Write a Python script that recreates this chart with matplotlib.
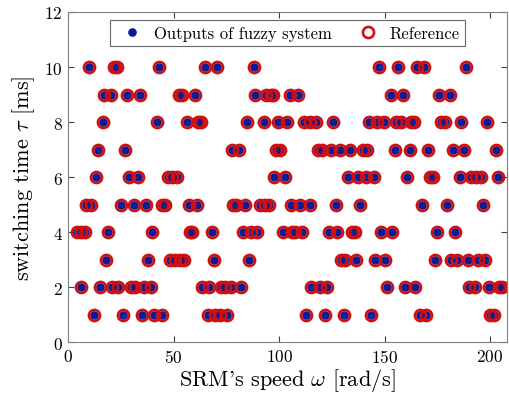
import matplotlib
matplotlib.use('Agg')
import matplotlib.pyplot as plt

plt.rcParams['font.family'] = 'cmr10'
plt.rcParams['mathtext.fontset'] = 'cm'
plt.rcParams['axes.formatter.use_mathtext'] = True

# speed values (rad/s) for each switching time level (ms)
speed_10 = [9.9, 21.7, 23.3, 43.0, 65.0, 70.7, 87.9, 147.5, 156.5, 165.5, 168.6, 188.7]
speed_9 = [17.0, 20.1, 28.0, 34.0, 52.5, 53.8, 60.0, 88.7, 93.6, 96.0, 97.2, 105.0, 108.9,
           152.8, 158.7, 175.6, 180.8]
speed_8 = [16.2, 42.1, 56.2, 61.5, 62.8, 84.6, 92.8, 99.6, 103.9, 111.8, 114.5, 117.6, 125.7,
           142.4, 146.5, 149.7, 155.5, 157.9, 162.6, 163.8, 176.9, 178.4, 186.3, 198.7]
speed_7 = [14.1, 26.9, 77.8, 80.8, 98.7, 100.2, 118.6, 120.2, 124.7, 128.8, 133.6, 139.7,
           141.6, 154.7, 161.8, 170.5, 182.4, 187.4, 202.8]
speed_6 = [13.0, 28.8, 33.1, 47.3, 49.2, 51.3, 97.7, 102.6, 132.6, 137.4, 141.0, 144.9,
           160.4, 171.5, 172.8, 185.7, 191.1, 193.4, 195.5, 203.6]
speed_5 = [8.6, 10.7, 25.2, 31.0, 36.6, 44.5, 45.7, 57.1, 61.1, 78.1, 79.7, 83.8, 90.8,
           93.1, 95.0, 105.8, 109.7, 114.8, 126.8, 138.5, 167.5, 179.7, 196.6]
speed_4 = [4.3, 6.2, 8.1, 18.9, 39.9, 57.6, 58.7, 67.9, 82.9, 86.5, 89.7, 101.8, 106.2,
           107.7, 110.8, 123.5, 127.6, 134.5, 135.8, 148.4, 153.6, 174.6, 183.5]
speed_3 = [17.8, 37.8, 48.1, 50.5, 52.8, 54.9, 69.0, 85.7, 129.1, 131.4, 136.6, 145.3,
           150.3, 173.7, 181.3, 184.4, 189.5, 194.2, 197.7]
speed_2 = [5.9, 14.9, 20.5, 23.6, 29.6, 31.5, 35.9, 39.1, 63.4, 66.6, 72.6, 74.2, 77.3,
           82.1, 115.2, 119.2, 122.8, 151.3, 159.5, 164.2, 189.8, 192.7, 199.3, 204.0, 205.6]
speed_1 = [12.2, 26.0, 35.0, 40.7, 44.2, 66.0, 69.4, 71.8, 75.4, 112.6, 121.9, 130.7,
           143.7, 166.6, 169.7, 200.2, 201.8]

levels = [10, 9, 8, 7, 6, 5, 4, 3, 2, 1]
rows = [speed_10, speed_9, speed_8, speed_7, speed_6, speed_5, speed_4, speed_3, speed_2, speed_1]

speed = []
tau = []
for lev, row in zip(levels, rows):
  for s in row:
    speed.append(s)
    tau.append(lev)

fig = plt.figure(figsize=(5.1, 4.06), dpi=100)
ax = fig.add_axes([0.134, 0.155, 0.86, 0.813])

ax.plot(speed, tau, 'o', color='#0b1c96', markersize=5.2, linestyle='none',
        label='Outputs of fuzzy system')
ax.plot(speed, tau, 'o', markerfacecolor='none', markeredgecolor='#d00f0f',
        markersize=8, markeredgewidth=1.9, linestyle='none', label='Reference')

ax.set_xlim(0, 208)
ax.set_ylim(0, 12)
ax.set_xticks([0, 50, 100, 150, 200])
ax.set_yticks([0, 2, 4, 6, 8, 10, 12])
ax.tick_params(direction='in', top=True, right=True, labelsize=12.5, length=4,
               color='#404040', pad=4)
for sp in ax.spines.values():
  sp.set_color('#808080')
  sp.set_linewidth(0.8)

ax.set_xlabel(r"SRM's speed $\omega$ [rad/s]", fontsize=16, labelpad=1)
ax.set_ylabel(r'switching time $\tau$ [ms]', fontsize=16, labelpad=5)

leg = ax.legend(loc='upper center', ncol=2, fontsize=12, frameon=True, fancybox=False,
                edgecolor='#404040', borderpad=0.3, handletextpad=0.3, columnspacing=1.2,
                bbox_to_anchor=(0.5, 1.0))
leg.get_frame().set_linewidth(0.8)

fig.savefig('out.png', dpi=100)
